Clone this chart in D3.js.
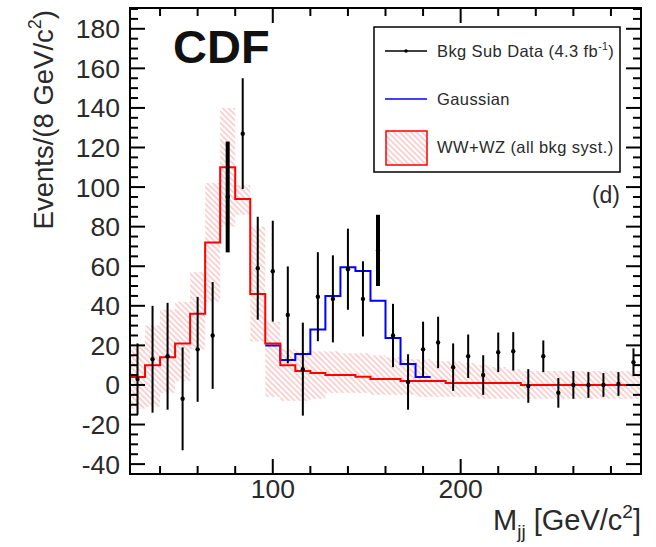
<!DOCTYPE html>
<html>
<head>
<meta charset="utf-8">
<script src="https://cdn.jsdelivr.net/npm/d3@7"></script>
<style>
  body { margin: 0; background: #fff; }
  text { font-family: "Liberation Sans", Arial, sans-serif; fill: #2a2a2a; }
</style>
</head>
<body>
<script>
// bin centres, 8 GeV wide
var massBins = [28, 36, 44, 52, 60, 68, 76, 84, 92, 100, 108, 116, 124, 132, 140, 148, 156,
    164, 172, 180, 188, 196, 204, 212, 220, 228, 236, 244, 252, 260, 268, 276, 284, 292];
var binWidth = 8;
// background subtracted data
var dataVals = [3, 13, 14.5, -7, 18, 25, 95, 127, 59, 57.5, 35.4, 8, 44.6, 43.5, 58.5, 43.5, 68,
    25, 1.5, 18, 21.5, 9, 14.5, 5, 16.5, 17, -0.5, 14.5, -4, 0, 0, 0, 0.5, 11.5];
var dataErr = [18, 27, 27, 26, 26.5, 27, 28, 28, 26, 25.5, 24.5, 23.5, 22.5, 22, 20.5, 19, 18,
    16, 14, 14, 13, 12, 11, 10, 10, 9.7, 8.5, 8, 7.5, 7, 6.5, 6, 6, 7];
// WW+WZ template and its syst. band
var wwwzVals = [4, 10, 14, 21, 36, 72, 110, 94, 46, 21, 10, 7, 6, 5, 5, 4.2, 3,
    3, 2, 2, 2, 1, 1, 1, 1, 1, 0, 0, 0, 0, 0, 0, 0, 0];
var bandLo = [-12, -11, -4, 2, 18, 42, 80, 86, 22, -6, -8, -8, -7, -4, -4, -4, -5,
    -5, -5, -6, -6, -6, -6, -7, -7, -7, -7, -7, -7, -7, -7, -7, -7, -7];
var bandHi = [19, 30, 38, 42, 57, 102, 140, 101, 80, 32, 18, 17, 17, 17, 16, 16, 15,
    14, 13, 13, 12, 12, 11, 10, 9, 8, 7, 7, 7, 7, 7, 7, 7, 7];
// gaussian fit (drawn on top of template)
var gaussBins = [100, 108, 116, 124, 132, 140, 148, 156, 164, 172, 180];
var gaussVals = [20, 12.6, 15.7, 28, 45, 59.5, 57.6, 42.6, 23.7, 10.6, 4];
// axis ticks
var yMajor = [-40, -20, 0, 20, 40, 60, 80, 100, 120, 140, 160, 180];
var xMajor = [100, 200];
var legendLabels = ['Bkg Sub Data (4.3 fb', 'Gaussian', 'WW+WZ (all bkg syst.)'];

var w = 656,
    h = 547;
var pL = 130, pR = 641, pT = 8, pB = 474;

var x = d3.scaleLinear().domain([24, 296]).range([pL, pR]);
var y = d3.scaleLinear().domain([-45, 190.5]).range([pB, pT]);

var svg = d3.select('body')
    .append('svg')
    .attr('width', w)
    .attr('height', h);

var defs = svg.append('defs');
var pat = defs.append('pattern')
    .attr('id', 'hatch')
    .attr('patternUnits', 'userSpaceOnUse')
    .attr('width', 4)
    .attr('height', 4)
    .attr('patternTransform', 'rotate(-45)');
pat.append('line')
    .attr('x1', 1).attr('x2', 1)
    .attr('y1', 0).attr('y2', 4)
    .attr('stroke', '#f08a8a')
    .attr('stroke-width', 1.1)
    .attr('stroke-opacity', 0.7);
defs.append('clipPath')
    .attr('id', 'plotclip')
    .append('rect')
    .attr('x', pL).attr('y', pT)
    .attr('width', pR - pL).attr('height', pB - pT);

var plot = svg.append('g').attr('clip-path', 'url(#plotclip)');

// syst band
plot.selectAll('rect.band')
    .data(massBins)
    .enter()
    .append('rect')
    .attr('class', 'band')
    .attr('x', function(d) { return x(d - binWidth / 2); })
    .attr('width', function(d) { return x(d + binWidth / 2) - x(d - binWidth / 2); })
    .attr('y', function(d, i) { return y(bandHi[i]); })
    .attr('height', function(d, i) { return y(bandLo[i]) - y(bandHi[i]); })
    .attr('fill', 'url(#hatch)');

var stepLine = d3.line()
    .x(function(d) { return x(d[0]); })
    .y(function(d) { return y(d[1]); })
    .curve(d3.curveStepAfter);

var steps = function(bins, vals) {
    var pts = bins.map(function(b, i) { return [b - binWidth / 2, vals[i]]; });
    pts.push([bins[bins.length - 1] + binWidth / 2, vals[vals.length - 1]]);
    return pts;
};

plot.append('path')
    .attr('d', stepLine(steps(gaussBins, gaussVals)))
    .attr('fill', 'none')
    .attr('stroke', '#0000ff')
    .attr('stroke-width', 2);

plot.append('path')
    .attr('d', stepLine(steps(massBins, wwwzVals)))
    .attr('fill', 'none')
    .attr('stroke', '#ff0000')
    .attr('stroke-width', 2);

// data points
var pts = plot.selectAll('g.pt')
    .data(massBins)
    .enter()
    .append('g')
    .attr('class', 'pt');
pts.append('line')
    .attr('x1', function(d) { return x(d); })
    .attr('x2', function(d) { return x(d); })
    .attr('y1', function(d, i) { return y(dataVals[i] - dataErr[i]); })
    .attr('y2', function(d, i) { return y(dataVals[i] + dataErr[i]); })
    .attr('stroke', '#000')
    .attr('stroke-width', function(d) { return (d === 76 || d === 156) ? 4 : 2; });
pts.append('circle')
    .attr('cx', function(d) { return x(d); })
    .attr('cy', function(d, i) { return y(dataVals[i]); })
    .attr('r', 2.2)
    .attr('fill', '#000');

// frame + ticks
svg.append('rect')
    .attr('x', pL).attr('y', pT)
    .attr('width', pR - pL).attr('height', pB - pT)
    .attr('fill', 'none')
    .attr('stroke', '#000')
    .attr('stroke-width', 2);

var yMinor = d3.range(-45, 191, 5).filter(function(v) { return yMajor.indexOf(v) < 0; });
var xMinor = d3.range(40, 296, 20).filter(function(v) { return xMajor.indexOf(v) < 0; });

var ticks = svg.append('g').attr('stroke', '#000').attr('stroke-width', 2);
[[yMajor, 15], [yMinor, 8]].forEach(function(t) {
    t[0].forEach(function(v) {
        ticks.append('line').attr('x1', pL).attr('x2', pL + t[1]).attr('y1', y(v)).attr('y2', y(v));
        ticks.append('line').attr('x1', pR).attr('x2', pR - t[1]).attr('y1', y(v)).attr('y2', y(v));
    });
});
[[xMajor, 15], [xMinor, 8]].forEach(function(t) {
    t[0].forEach(function(v) {
        ticks.append('line').attr('y1', pB).attr('y2', pB - t[1]).attr('x1', x(v)).attr('x2', x(v));
        ticks.append('line').attr('y1', pT).attr('y2', pT + t[1]).attr('x1', x(v)).attr('x2', x(v));
    });
});

svg.selectAll('text.ylab')
    .data(yMajor)
    .enter()
    .append('text')
    .attr('class', 'ylab')
    .attr('x', 120)
    .attr('y', function(d) { return y(d) + 9.5; })
    .attr('text-anchor', 'end')
    .attr('font-size', 26.5)
    .text(function(d) { return d; });

svg.selectAll('text.xlab')
    .data(xMajor)
    .enter()
    .append('text')
    .attr('class', 'xlab')
    .attr('x', function(d) { return x(d); })
    .attr('y', 498)
    .attr('text-anchor', 'middle')
    .attr('font-size', 26.5)
    .text(function(d) { return d; });

// axis titles
var xt = svg.append('text')
    .attr('x', pR)
    .attr('y', 530)
    .attr('text-anchor', 'end')
    .attr('font-size', 29);
xt.append('tspan').text('M');
xt.append('tspan').attr('font-size', 19).attr('dy', 8).text('jj');
xt.append('tspan').attr('dy', -8).text(' [GeV/c');
xt.append('tspan').attr('font-size', 19).attr('dy', -12).text('2');
xt.append('tspan').attr('dy', 12).text(']');

var yt = svg.append('text')
    .attr('transform', 'translate(53,10) rotate(-90)')
    .attr('text-anchor', 'end')
    .attr('font-size', 27.5);
yt.append('tspan').text('Events/(8 GeV/c');
yt.append('tspan').attr('font-size', 18).attr('dy', -12).text('2');
yt.append('tspan').attr('dy', 12).text(')');

svg.append('text')
    .attr('x', 173)
    .attr('y', 63)
    .attr('font-family', '"DejaVu Sans", sans-serif')
    .attr('font-weight', 'bold')
    .attr('font-size', 47)
    .style('fill', '#111')
    .text('CDF');

svg.append('text')
    .attr('x', 620)
    .attr('y', 203)
    .attr('text-anchor', 'end')
    .attr('font-size', 23)
    .text('(d)');

// legend
var lg = svg.append('g');
lg.append('rect')
    .attr('x', 374).attr('y', 27)
    .attr('width', 246).attr('height', 145)
    .attr('fill', '#fff')
    .attr('stroke', '#000')
    .attr('stroke-width', 1.5);
lg.append('line')
    .attr('x1', 385).attr('x2', 427).attr('y1', 51).attr('y2', 51)
    .attr('stroke', '#000').attr('stroke-width', 1.5);
lg.append('circle').attr('cx', 406).attr('cy', 51).attr('r', 1.8).attr('fill', '#000');
lg.append('line')
    .attr('x1', 385).attr('x2', 427).attr('y1', 99).attr('y2', 99)
    .attr('stroke', '#0000ff').attr('stroke-width', 1.5);
lg.append('rect')
    .attr('x', 386).attr('y', 131)
    .attr('width', 41).attr('height', 34)
    .attr('fill', 'url(#hatch)')
    .attr('stroke', '#ff0000')
    .attr('stroke-width', 1.5);
var l1 = lg.append('text').attr('x', 437).attr('y', 57).attr('font-size', 16.5).attr('letter-spacing', 0.4);
l1.append('tspan').text(legendLabels[0]);
l1.append('tspan').attr('font-size', 10.5).attr('dy', -7).text('-1');
l1.append('tspan').attr('dy', 7).text(')');
lg.append('text').attr('x', 437).attr('y', 105).attr('font-size', 16.5).attr('letter-spacing', 0.4).text(legendLabels[1]);
lg.append('text').attr('x', 437).attr('y', 153).attr('font-size', 16.5).attr('letter-spacing', 0.4).text(legendLabels[2]);
</script>
</body>
</html>
